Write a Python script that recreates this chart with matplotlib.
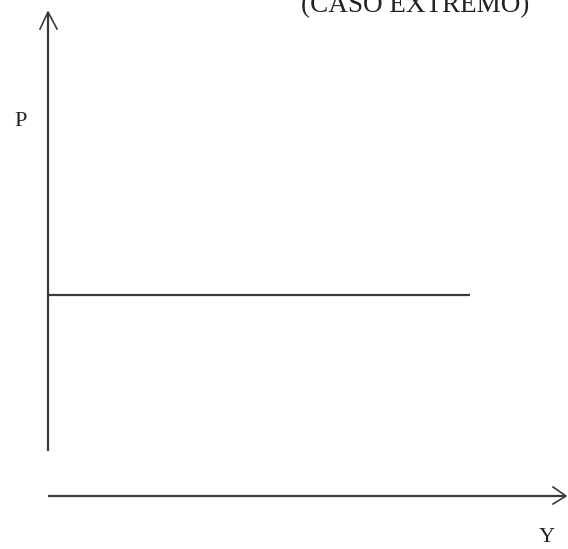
import matplotlib
matplotlib.use("Agg")
import matplotlib.pyplot as plt

# diagram in pixel coordinates (origin top-left)
title = "(CASO EXTREMO)"
p_label = "P"
y_label = "Y"

# axes: vertical P axis and horizontal Y axis
v_axis_x = [48, 48]
v_axis_y = [451, 12]
h_axis_x = [48, 566]
h_axis_y = [496, 496]

# horizontal curve (P constant)
curve_x = [48, 470]
curve_y = [295, 295]

# arrow heads
v_head_x = [40, 48, 57]
v_head_y = [29, 12, 29]
h_head_x = [553, 566, 553]
h_head_y = [487, 496, 504]

col = "#3a3a3a"

fig = plt.figure(figsize=(5.68, 5.49), dpi=100)
ax = fig.add_axes([0, 0, 1, 1])
ax.set_xlim(0, 568)
ax.set_ylim(549, 0)
ax.axis("off")

ax.plot(v_axis_x, v_axis_y, color=col, lw=1.6, solid_capstyle="butt")
ax.plot(h_axis_x, h_axis_y, color=col, lw=1.6, solid_capstyle="butt")
ax.plot(curve_x, curve_y, color=col, lw=1.6, solid_capstyle="butt")
ax.plot(v_head_x, v_head_y, color=col, lw=1.2)
ax.plot(h_head_x, h_head_y, color=col, lw=1.2)

font = ["Liberation Serif", "DejaVu Serif"]
ax.text(21, 121, p_label, family=font, fontsize=16, ha="center", va="center", color="#222222")
ax.text(547, 537, y_label, family=font, fontsize=16, ha="center", va="center", color="#222222")
ax.text(415, 12, title, family=font, fontsize=19.5, ha="center", va="baseline", color="#222222")

fig.savefig("out.png", dpi=100)
